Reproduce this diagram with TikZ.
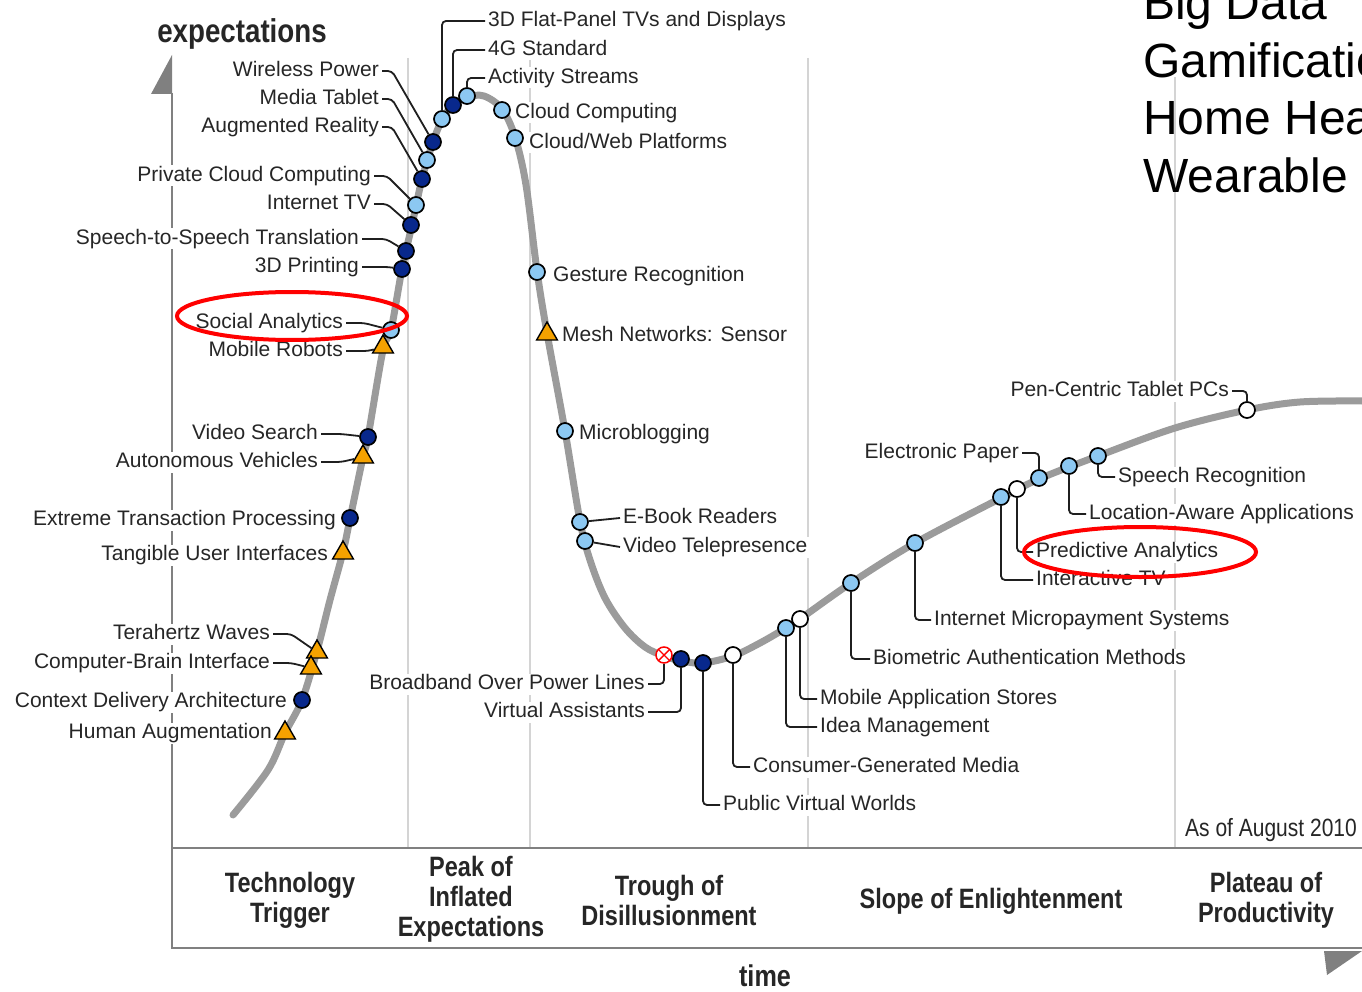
\documentclass[tikz,border=0pt]{standalone}
\usepackage{fontspec}
\setmainfont{Liberation Sans}
\newfontfamily\condfont[FakeStretch=0.84]{Liberation Sans}
\usetikzlibrary{shapes.geometric}
\definecolor{lightblu}{RGB}{140,200,242}
\definecolor{darkblu}{RGB}{8,40,140}
\definecolor{orng}{RGB}{245,162,0}
\definecolor{curvegrey}{RGB}{155,155,155}
\definecolor{txt}{RGB}{38,38,38}
\definecolor{axisgrey}{RGB}{128,128,128}
\definecolor{gridgrey}{RGB}{212,212,212}
\newcommand\hclabel{\fontsize{21}{24}\selectfont}
\begin{document}
\begin{tikzpicture}[x=1pt,y=-1pt,
  lbl/.style={fill=white, inner xsep=3pt, inner ysep=1pt, text height=15pt, text depth=4pt, font=\hclabel, text=txt, yshift=-2pt},
  lblL/.style={lbl, anchor=east, xshift=3pt},
  lblR/.style={lbl, anchor=west, xshift=-3pt},
  dot/.style={circle, draw=black, line width=1.7pt, minimum size=16pt, inner sep=0pt},
  lb/.style={dot, fill=lightblu},
  db/.style={dot, fill=darkblu},
  wh/.style={dot, fill=white},
  tri/.style={regular polygon, regular polygon sides=3, draw=black, line width=1.4pt, fill=orng, minimum size=24pt, inner sep=0pt},
  obs/.style={circle, draw=red, line width=1.5pt, fill=white, minimum size=16pt, inner sep=0pt,
    path picture={\draw[red, line width=1.4pt]
      (path picture bounding box.north west) -- (path picture bounding box.south east)
      (path picture bounding box.north east) -- (path picture bounding box.south west);}},
  conn/.style={draw=black!88, line width=1.8pt, rounded corners=4pt},
  hype/.style={draw=curvegrey, line width=7pt, line cap=round},
  gridline/.style={draw=gridgrey, line width=1.5pt},
  axisline/.style={draw=axisgrey, line width=2.6pt},
  ring/.style={draw=red, line width=4pt},
  phase/.style={align=center, text=txt, font=\condfont\bfseries\fontsize{28}{30}\selectfont, inner sep=0pt},
]
\useasboundingbox (0,0) rectangle (1362,992);
\clip (0,0) rectangle (1362,992);

% phase separators
\foreach \gx/\gy in {408/58, 530/58, 808/58, 1175/77}
  \draw[gridline] (\gx,\gy) -- (\gx,848);

% axes and the phase band
\draw[axisline] (172,93) -- (172,948) -- (1362,948);
\draw[axisline] (172,848) -- (1362,848);
\fill[axisgrey] (172,55) -- (172,94) -- (151,94) -- cycle;
\fill[axisgrey] (1324,951) -- (1362,951) -- (1327,975) -- cycle;

% labels on the left of their markers
\node[lblL] (l_wp)  at (379,69)  {Wireless Power};
\node[lblL] (l_mt)  at (379,97)  {Media Tablet};
\node[lblL] (l_ar)  at (379,125) {Augmented Reality};
\node[lblL] (l_pcc) at (371,174) {Private Cloud Computing};
\node[lblL] (l_itv) at (371,202) {Internet TV};
\node[lblL] (l_sst) at (359,237) {Speech-to-Speech Translation};
\node[lblL] (l_3dp) at (359,265) {3D Printing};
\node[lblL] (l_sa)  at (343,321) {Social Analytics};
\node[lblL] (l_mr)  at (343,349) {Mobile Robots};
\node[lblL] (l_vs)  at (318,432) {Video Search};
\node[lblL] (l_av)  at (318,460) {Autonomous Vehicles};
\node[lblL] (l_etp) at (336,518) {Extreme Transaction Processing};
\node[lblL] (l_tui) at (328,553) {Tangible User Interfaces};
\node[lblL] (l_tw)  at (270,632) {Terahertz Waves};
\node[lblL] (l_cbi) at (270,661) {Computer-Brain Interface};
\node[lblL] (l_cda) at (287,700) {Context Delivery Architecture};
\node[lblL] (l_ha)  at (272,731) {Human Augmentation};
\node[lblL] (l_bpl) at (645,682) {Broadband Over Power Lines};
\node[lblL] (l_va)  at (645,710) {Virtual Assistants};
\node[lblL] (l_ep)  at (1019,451) {Electronic Paper};
\node[lblL] (l_pct) at (1229,389) {Pen-Centric Tablet PCs};

% labels on the right of their markers
\node[lblR] (l_3df)  at (488,19)  {3D Flat-Panel TVs and Displays};
\node[lblR] (l_4g)   at (488,48)  {4G Standard};
\node[lblR] (l_as)   at (488,76)  {Activity Streams};
\node[lblR] (l_cc)   at (515,111) {Cloud Computing};
\node[lblR] (l_cwp)  at (529,141) {Cloud/Web Platforms};
\node[lblR] (l_gr)   at (553,274) {Gesture Recognition};
\node[lblR] (l_mesh) at (562,334) {Mesh Networks: Sensor};
\node[lblR] (l_mb)   at (579,432) {Microblogging};
\node[lblR] (l_ebr)  at (623,516) {E-Book Readers};
\node[lblR] (l_vt)   at (623,545) {Video Telepresence};
\node[lblR] (l_pvw)  at (723,803) {Public Virtual Worlds};
\node[lblR] (l_cgm)  at (753,765) {Consumer-Generated Media};
\node[lblR] (l_im)   at (820,725) {Idea Management};
\node[lblR] (l_mas)  at (820,697) {Mobile Application Stores};
\node[lblR] (l_bam)  at (873,657) {Biometric Authentication Methods};
\node[lblR] (l_ims)  at (934,618) {Internet Micropayment Systems};
\node[lblR] (l_itv2) at (1036,578) {Interactive TV};
\node[lblR] (l_pa)   at (1036,550) {Predictive Analytics};
\node[lblR] (l_laa)  at (1089,512) {Location-Aware Applications};
\node[lblR] (l_sr)   at (1118,475) {Speech Recognition};

% the hype cycle curve
\draw[hype] plot[smooth, tension=0.55] coordinates {
  (233,815) (268,770) (285,733) (302,700) (317,651) (330,600) (343,552)
  (350,519) (363,457) (368,437) (383,350) (391,330) (402,269) (412,225)
  (422,179) (433,142) (442,120) (453,105) (467,97) (484,96) (502,109)
  (515,137) (526,185) (537,271) (547,333) (565,431) (580,521) (590,560)
  (605,598) (625,628) (645,647) (664,656) (682,661) (703,663) (733,656)
  (760,643) (786,628) (800,619) (851,583) (915,543) (1001,498) (1039,479)
  (1098,456) (1175,428) (1247,410) (1300,402) (1362,401)};

% markers
\node[db]  (m_wp)   at (433,142) {};
\node[lb]  (m_mt)   at (427,160) {};
\node[db]  (m_ar)   at (422,179) {};
\node[lb]  (m_pcc)  at (416,205) {};
\node[db]  (m_itv)  at (411,225) {};
\node[db]  (m_sst)  at (406,251) {};
\node[db]  (m_3dp)  at (402,269) {};
\node[lb]  (m_sa)   at (391,330) {};
\node[tri] (m_mr)   at (383,347) {};
\node[db]  (m_vs)   at (368,437) {};
\node[tri] (m_av)   at (363,457) {};
\node[db]  (m_etp)  at (350,518) {};
\node[tri] (m_tui)  at (343,553) {};
\node[tri] (m_tw)   at (317,652) {};
\node[tri] (m_cbi)  at (311,668) {};
\node[db]  (m_cda)  at (302,700) {};
\node[tri] (m_ha)   at (285,733) {};
\node[lb]  (m_3df)  at (442,119) {};
\node[db]  (m_4g)   at (453,105) {};
\node[lb]  (m_as)   at (467,96)  {};
\node[lb]  (m_cc)   at (502,110) {};
\node[lb]  (m_cwp)  at (515,138) {};
\node[lb]  (m_gr)   at (537,272) {};
\node[tri] (m_mesh) at (547,334) {};
\node[lb]  (m_mb)   at (565,431) {};
\node[lb]  (m_ebr)  at (580,522) {};
\node[lb]  (m_vt)   at (585,541) {};
\node[obs] (m_bpl)  at (664,655) {};
\node[db]  (m_va)   at (681,659) {};
\node[db]  (m_pvw)  at (703,663) {};
\node[wh]  (m_cgm)  at (733,655) {};
\node[lb]  (m_im)   at (786,628) {};
\node[wh]  (m_mas)  at (800,619) {};
\node[lb]  (m_bam)  at (851,583) {};
\node[lb]  (m_ims)  at (915,543) {};
\node[lb]  (m_itv2) at (1001,497) {};
\node[wh]  (m_pa)   at (1017,489) {};
\node[lb]  (m_ep)   at (1039,478) {};
\node[lb]  (m_laa)  at (1069,466) {};
\node[lb]  (m_sr)   at (1098,456) {};
\node[wh]  (m_pct)  at (1247,410) {};

% leader lines
\draw[conn] (l_wp.east)  -- ++(10,0) -- (m_wp);
\draw[conn] (l_mt.east)  -- ++(10,0) -- (m_mt);
\draw[conn] (l_ar.east)  -- ++(10,0) -- (m_ar);
\draw[conn] (l_pcc.east) -- ++(13,0) -- (m_pcc);
\draw[conn] (l_itv.east) -- ++(13,0) -- (m_itv);
\draw[conn] (l_sst.east) -- ++(24,0) -- (m_sst);
\draw[conn] (l_3dp.east) -- ++(26,0) -- (m_3dp);
\draw[conn] (l_sa.east)  -- ++(18,0) -- (m_sa);
\draw[conn] (l_mr.east)  -- ++(22,0) -- (m_mr);
\draw[conn] (l_vs.east)  -- ++(20,0) -- (m_vs);
\draw[conn] (l_av.east)  -- ++(20,0) -- (m_av);
\draw[conn] (l_tw.east)  -- ++(18,0) -- (m_tw);
\draw[conn] (l_cbi.east) -- ++(18,0) -- (m_cbi);
\draw[conn] (m_3df) |- (l_3df.west);
\draw[conn] (m_4g)  |- (l_4g.west);
\draw[conn] (m_as)  |- (l_as.west);
\draw[conn] (m_ebr) -- (l_ebr.west);
\draw[conn] (m_vt)  -- (l_vt.west);
\draw[conn] (l_bpl.east) -| (m_bpl);
\draw[conn] (l_va.east)  -| (m_va);
\draw[conn] (l_ep.east)  -| (m_ep);
\draw[conn] (l_pct.east) -| (m_pct);
\draw[conn] (m_pvw)  |- (l_pvw.west);
\draw[conn] (m_cgm)  |- (l_cgm.west);
\draw[conn] (m_im)   |- (l_im.west);
\draw[conn] (m_mas)  |- (l_mas.west);
\draw[conn] (m_bam)  |- (l_bam.west);
\draw[conn] (m_ims)  |- (l_ims.west);
\draw[conn] (m_itv2) |- (l_itv2.west);
\draw[conn] (m_pa)   |- (l_pa.west);
\draw[conn] (m_laa)  |- (l_laa.west);
\draw[conn] (m_sr)   |- (l_sr.west);

% highlight rings
\draw[ring] (292,316) ellipse [x radius=115pt, y radius=24pt];
\draw[ring] (1140,552) ellipse [x radius=116pt, y radius=25pt];

% axis titles and phases
\node[anchor=base, text=txt, inner sep=0pt, font=\condfont\bfseries\fontsize{33}{36}\selectfont] (ylab) at (242,43) {expectations};
\node[anchor=base, text=txt, inner sep=0pt, font=\condfont\bfseries\fontsize{30}{32}\selectfont] (xlab) at (765,986) {time};
\node[anchor=base east, text=txt, inner sep=0pt, font=\condfont\fontsize{25}{27}\selectfont] (asof) at (1357,836) {As of August 2010};
\node[phase] (ph1) at (290,900)  {Technology\\Trigger};
\node[phase] (ph2) at (471,899)  {Peak of\\Inflated\\Expectations};
\node[phase] (ph3) at (669,900)  {Trough of\\Disillusionment};
\node[phase] (ph4) at (991,901)  {Slope of Enlightenment};
\node[phase] (ph5) at (1266,900) {Plateau of\\Productivity};

% list in the upper right corner
\node[anchor=base west, inner sep=0pt, font=\fontsize{48}{58}\selectfont] (bt1) at (1143,20)  {Big Data};
\node[anchor=base west, inner sep=0pt, font=\fontsize{48}{58}\selectfont] (bt2) at (1143,78)  {Gamification};
\node[anchor=base west, inner sep=0pt, font=\fontsize{48}{58}\selectfont] (bt3) at (1143,135) {Home Health};
\node[anchor=base west, inner sep=0pt, font=\fontsize{48}{58}\selectfont] (bt4) at (1143,193) {Wearable};
\end{tikzpicture}
\end{document}
